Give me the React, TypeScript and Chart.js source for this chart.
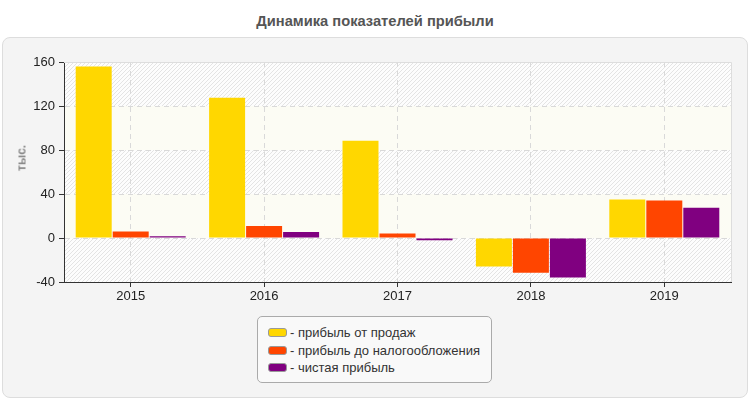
import React, { useEffect, useRef } from "react";
import { Chart, registerables } from "chart.js";

Chart.register(...registerables);

const categories = ["2015", "2016", "2017", "2018", "2019"];
const salesProfit = [156, 127.5, 88.5, -26, 35];
const preTaxProfit = [6, 11, 4, -31.5, 34];
const netProfit = [1.5, 5.5, -2, -36, 27.5];
const seriesLabels = [
  "- прибыль от продаж",
  "- прибыль до налогообложения",
  "- чистая прибыль",
];
const seriesColors = ["#FFD700", "#FF4500", "#800080"];
const yMin = -40;
const yMax = 160;
const yStep = 40;
const chartTitle = "Динамика показателей прибыли";
const yTitle = "тыс.";

const FONT = "'Liberation Sans', Arial, sans-serif";

const bandPlugin = {
  id: "bands",
  beforeDraw(chart: any) {
    const { ctx, chartArea: a, scales } = chart;
    const y = scales.y;
    const pc = document.createElement("canvas");
    pc.width = 4;
    pc.height = 4;
    const p = pc.getContext("2d")!;
    p.fillStyle = "#fdfdfd";
    p.fillRect(0, 0, 4, 4);
    p.strokeStyle = "#e4e4e4";
    p.lineWidth = 1;
    p.beginPath();
    p.moveTo(0, 4);
    p.lineTo(4, 0);
    p.moveTo(-1, 1);
    p.lineTo(1, -1);
    p.moveTo(3, 5);
    p.lineTo(5, 3);
    p.stroke();
    const pattern = ctx.createPattern(pc, "repeat");
    const vals = y.ticks.map((t: any) => t.value).sort((m: number, n: number) => n - m);
    ctx.save();
    for (let i = 0; i < vals.length - 1; i++) {
      const top = y.getPixelForValue(vals[i]);
      const bot = y.getPixelForValue(vals[i + 1]);
      ctx.fillStyle = i % 2 === 0 ? pattern : "#fcfcf4";
      ctx.fillRect(a.left, top, a.right - a.left, bot - top);
    }
    ctx.restore();
  },
  beforeDatasetsDraw(chart: any) {
    const { ctx, chartArea: a } = chart;
    ctx.save();
    ctx.strokeStyle = "#dddddd";
    ctx.lineWidth = 1;
    ctx.beginPath();
    ctx.moveTo(a.left, a.top + 0.5);
    ctx.lineTo(a.right + 0.5, a.top + 0.5);
    ctx.lineTo(a.right + 0.5, a.bottom);
    ctx.stroke();
    ctx.restore();
  },
};

export default function App() {
  const ref = useRef<HTMLCanvasElement | null>(null);

  useEffect(() => {
    if (!ref.current) return;
    const seriesData = [salesProfit, preTaxProfit, netProfit];
    const chart = new Chart(ref.current, {
      type: "bar",
      data: {
        labels: categories,
        datasets: seriesData.map((d, i) => ({
          label: seriesLabels[i],
          data: d,
          backgroundColor: seriesColors[i],
          borderWidth: 0,
          categoryPercentage: 0.832,
          barPercentage: 0.973,
        })),
      },
      options: {
        responsive: false,
        animation: false,
        devicePixelRatio: 1,
        layout: { padding: { top: 62, right: 19, left: 0, bottom: 88 } },
        plugins: {
          legend: { display: false },
          tooltip: { enabled: false },
          title: { display: false },
        },
        scales: {
          x: {
            afterFit: (s: any) => {
              s.height = 30;
            },
            grid: {
              offset: false,
              color: "#d9d9d9",
              lineWidth: 1,
              drawTicks: true,
              tickLength: 5,
              tickColor: "#333333",
              tickBorderDash: [],
            },
            border: { display: true, color: "#333333", width: 1, dash: [5, 4] },
            ticks: {
              color: "#222222",
              font: { family: FONT, size: 13 },
              padding: 2,
            },
          },
          y: {
            min: yMin,
            max: yMax,
            afterFit: (s: any) => {
              s.width = 64;
            },
            grid: {
              color: "#d9d9d9",
              lineWidth: 1,
              drawTicks: true,
              tickLength: 5,
              tickColor: "#333333",
              tickBorderDash: [],
            },
            border: { display: true, color: "#333333", width: 1, dash: [5, 4] },
            ticks: {
              stepSize: yStep,
              color: "#222222",
              font: { family: FONT, size: 13 },
              padding: 4,
            },
          },
        },
      },
      plugins: [bandPlugin],
    } as any);
    return () => chart.destroy();
  }, []);

  return (
    <div
      style={{
        position: "absolute",
        left: 0,
        top: 0,
        width: 750,
        height: 400,
        background: "#ffffff",
        fontFamily: FONT,
        overflow: "hidden",
      }}
    >
      <div
        style={{
          position: "absolute",
          left: 0,
          top: 13,
          width: 750,
          textAlign: "center",
          fontWeight: "bold",
          fontSize: 14.7,
          lineHeight: "17px",
          color: "#555555",
        }}
      >
        {chartTitle}
      </div>
      <div
        style={{
          position: "absolute",
          left: 2,
          top: 37,
          width: 746,
          height: 361,
          boxSizing: "border-box",
          border: "1px solid #dddddd",
          borderRadius: 8,
          background: "#f4f4f4",
        }}
      />
      <canvas
        ref={ref}
        width={750}
        height={400}
        style={{ position: "absolute", left: 0, top: 0, width: 750, height: 400 }}
      />
      <div
        style={{
          position: "absolute",
          left: 22,
          top: 158,
          transform: "translate(-50%, -50%) rotate(-90deg)",
          fontWeight: "bold",
          fontSize: 12,
          color: "#888888",
          whiteSpace: "nowrap",
          lineHeight: "13px",
        }}
      >
        {yTitle}
      </div>
      <div
        style={{
          position: "absolute",
          left: 257,
          top: 316,
          width: 235,
          height: 67,
          boxSizing: "border-box",
          border: "1px solid #aaaaaa",
          borderRadius: 5,
          background: "#f9f9f9",
          paddingTop: 7,
          paddingLeft: 10,
        }}
      >
        {seriesLabels.map((l, i) => (
          <div
            key={l}
            style={{
              display: "flex",
              alignItems: "center",
              height: 17.5,
              fontSize: 13,
              color: "#333333",
              whiteSpace: "nowrap",
            }}
          >
            <span
              style={{
                display: "inline-block",
                width: 19,
                height: 9,
                boxSizing: "border-box",
                border: "1px solid #999999",
                borderRadius: 3,
                background: seriesColors[i],
                marginRight: 3,
              }}
            />
            <span>{l}</span>
          </div>
        ))}
      </div>
    </div>
  );
}
